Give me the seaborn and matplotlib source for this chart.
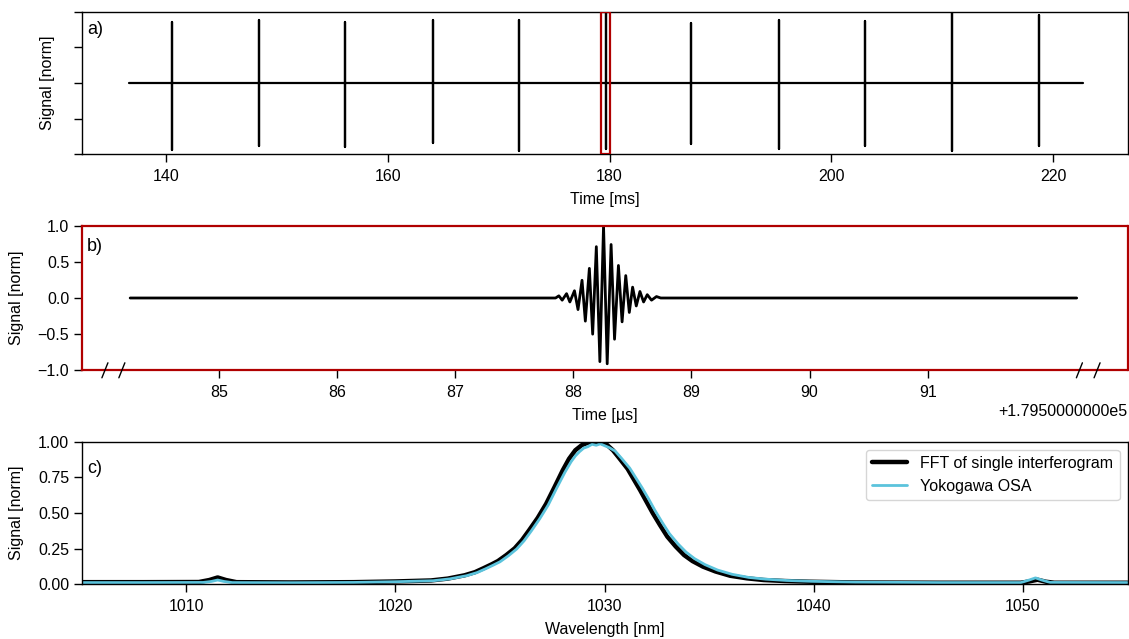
import numpy as np
import matplotlib
matplotlib.use("Agg")
import matplotlib.pyplot as plt
from matplotlib.patches import Rectangle
from matplotlib.ticker import ScalarFormatter
import seaborn as sns

# ---------------- (a) pulse train, time in ms ----------------
record_ms = [136.62, 222.68]
pulse_t_ms = [140.57, 148.37, 156.17, 164.07, 171.83, 179.66,
              187.38, 195.24, 203.00, 210.86, 218.73]
pulse_top = [0.86, 0.89, 0.85, 0.88, 0.89, 0.98, 0.84, 0.88, 0.87, 1.00, 0.95]
pulse_bottom = [-0.94, -0.885, -0.895, -0.84, -0.95, -0.93,
                -0.86, -0.92, -0.89, -0.96, -0.89]
zoom_window_ms = [179.21, 180.07]

# ---------------- (b) single interferogram, time in µs ----------------
T0_US = 179500.0
trace_us = [84.25, 92.26]
fringe_t_us = [87.850, 87.878, 87.906, 87.943, 87.971, 88.010, 88.040, 88.074,
               88.102, 88.136, 88.164, 88.195, 88.225, 88.256, 88.287, 88.320,
               88.349, 88.382, 88.413, 88.444, 88.474, 88.502, 88.533, 88.564,
               88.595, 88.626, 88.662, 88.704, 88.740]
fringe_v = [0.0, 0.03, -0.03, 0.06, -0.055, 0.10, -0.16, 0.245,
            -0.32, 0.41, -0.50, 0.71, -0.88, 1.00, -0.91, 0.74,
            -0.57, 0.45, -0.33, 0.31, -0.20, 0.15, -0.11, 0.09,
            -0.055, 0.046, -0.03, 0.02, 0.0]
b_ticks_us = [85, 86, 87, 88, 89, 90, 91]
b_xlim_us = [83.84, 92.69]

# ---------------- (c) spectra ----------------
fft_wl = [1005.0, 1008.0, 1010.6, 1011.1, 1011.5, 1011.9, 1012.4, 1015.0,
          1018.0, 1020.0, 1021.7, 1022.5, 1023.3, 1023.8, 1024.2, 1024.6,
          1024.9, 1025.3, 1025.7, 1026.05, 1026.4, 1026.8, 1027.2, 1027.6,
          1028.0, 1028.3, 1028.6, 1028.9, 1029.2, 1029.5, 1029.8, 1030.1,
          1030.4, 1030.7, 1031.1, 1031.4, 1031.7, 1032.0, 1032.3, 1032.65,
          1033.0, 1033.4, 1033.8, 1034.2, 1034.7, 1035.3, 1036.0, 1036.8,
          1037.6, 1038.6, 1039.8, 1042.0, 1046.0, 1049.9, 1050.3, 1050.7,
          1051.1, 1051.5, 1055.0]
fft_val = [0.015, 0.015, 0.016, 0.030, 0.048, 0.030, 0.015, 0.013,
           0.015, 0.020, 0.027, 0.040, 0.063, 0.085, 0.112, 0.140,
           0.163, 0.205, 0.252, 0.310, 0.381, 0.465, 0.563, 0.680,
           0.800, 0.880, 0.940, 0.975, 0.993, 1.000, 0.995, 0.980,
           0.940, 0.885, 0.810, 0.735, 0.660, 0.580, 0.500, 0.415,
           0.334, 0.265, 0.205, 0.163, 0.124, 0.090, 0.060, 0.042,
           0.030, 0.023, 0.018, 0.013, 0.011, 0.011, 0.020, 0.032,
           0.018, 0.011, 0.011]
osa_wl = [1005.0, 1008.0, 1010.8, 1011.2, 1011.5, 1011.8, 1012.2, 1015.0,
          1018.0, 1020.0, 1021.8, 1022.6, 1023.4, 1023.9, 1024.3, 1024.7,
          1025.0, 1025.4, 1025.8, 1026.15, 1026.5, 1026.9, 1027.3, 1027.7,
          1028.1, 1028.4, 1028.6, 1028.8, 1029.0, 1029.2, 1029.4, 1029.6,
          1029.8, 1030.0, 1030.2, 1030.5, 1030.8, 1031.2, 1031.5, 1031.8,
          1032.1, 1032.4, 1032.75, 1033.1, 1033.5, 1033.9, 1034.3, 1034.8,
          1035.4, 1036.1, 1036.9, 1037.7, 1038.7, 1039.9, 1042.0, 1046.0,
          1049.9, 1050.3, 1050.6, 1050.9, 1051.3, 1055.0]
osa_val = [0.012, 0.012, 0.013, 0.020, 0.030, 0.020, 0.012, 0.011,
           0.013, 0.018, 0.025, 0.038, 0.060, 0.082, 0.108, 0.136,
           0.158, 0.200, 0.248, 0.305, 0.375, 0.460, 0.555, 0.672,
           0.785, 0.860, 0.900, 0.930, 0.955, 0.965, 0.982, 0.975,
           0.985, 0.972, 0.960, 0.935, 0.885, 0.815, 0.745, 0.675,
           0.600, 0.520, 0.435, 0.355, 0.285, 0.225, 0.180, 0.138,
           0.100, 0.070, 0.048, 0.036, 0.027, 0.021, 0.015, 0.012,
           0.012, 0.030, 0.045, 0.030, 0.013, 0.012]

RED = "#b00000"
CYAN = "#5bc3dc"

sns.set_theme(style="ticks")
plt.rcParams["font.family"] = ["Liberation Sans", "DejaVu Sans"]
plt.rcParams.update({
    "font.size": 11.5,
    "axes.labelsize": 11.5,
    "xtick.labelsize": 11.5,
    "ytick.labelsize": 11.5,
    "legend.fontsize": 11.5,
    "axes.linewidth": 1.0,
    "axes.edgecolor": "black",
    "axes.labelpad": 6.0,
    "xtick.color": "black",
    "ytick.color": "black",
    "xtick.major.size": 5.5,
    "ytick.major.size": 5.5,
    "xtick.major.pad": 5.0,
    "ytick.major.pad": 3.5,
    "xtick.major.width": 1.0,
    "ytick.major.width": 1.0,
    "axes.labelcolor": "black",
    "text.color": "black",
})


class SciOffsetFormatter(ScalarFormatter):
    """Offset written with a ten-digit mantissa, e.g. +1.7950000000e5."""

    def get_offset(self):
        if not self.offset:
            return super().get_offset()
        mant, exp = ("%1.10e" % self.offset).split("e")
        return "+" + mant + "e" + str(int(exp))


W, H = 1129, 639
fig = plt.figure(figsize=(W / 100, H / 100), dpi=100)
ax_a = fig.add_axes([81.7 / W, 1 - 154.3 / H, 1045.8 / W, 142.6 / H])
ax_b = fig.add_axes([81.7 / W, 1 - 370.3 / H, 1045.8 / W, 144.6 / H])
ax_c = fig.add_axes([81.7 / W, 1 - 584.3 / H, 1045.8 / W, 142.6 / H])

# ---- (a) ----
ta, ya = [record_ms[0]], [0.0]
for t, hi, lo in zip(pulse_t_ms, pulse_top, pulse_bottom):
    ta += [t, t, t, t]
    ya += [0.0, hi, lo, 0.0]
ta.append(record_ms[1])
ya.append(0.0)
sns.lineplot(x=ta, y=ya, ax=ax_a, color="black", lw=1.6,
             estimator=None, sort=False)
ax_a.add_patch(Rectangle((zoom_window_ms[0], -1.0),
                         zoom_window_ms[1] - zoom_window_ms[0], 2.0,
                         fill=False, edgecolor=RED, lw=1.6, zorder=4))
ax_a.set_xlim(132.4, 226.7)
ax_a.set_ylim(-1.0, 1.0)
ax_a.set_yticks([-1.0, -0.5, 0.0, 0.5, 1.0])
ax_a.set_yticklabels([])
ax_a.set_xlabel("Time [ms]")
ax_a.set_ylabel("Signal [norm]")
ax_a.yaxis.set_label_coords(-0.0255, 0.5)
ax_a.text(0.005, 0.935, "a)", transform=ax_a.transAxes, ha="left", va="top",
          fontsize=13)

# ---- (b) ----
tb = [trace_us[0]] + fringe_t_us + [trace_us[1]]
vb = [0.0] + fringe_v + [0.0]
sns.lineplot(x=T0_US + np.array(tb), y=vb, ax=ax_b, color="black", lw=2.0,
             estimator=None, sort=False)
ax_b.set_xlim(T0_US + b_xlim_us[0], T0_US + b_xlim_us[1])
ax_b.set_ylim(-1.0, 1.0)
ax_b.set_xticks(T0_US + np.array(b_ticks_us, dtype=float))
ax_b.set_yticks([-1.0, -0.5, 0.0, 0.5, 1.0])
ax_b.xaxis.set_major_formatter(SciOffsetFormatter(useOffset=True))
for sp in ax_b.spines.values():
    sp.set_edgecolor(RED)
    sp.set_linewidth(1.6)
ax_b.set_xlabel("Time [µs]")
ax_b.set_ylabel("Signal [norm]")
ax_b.yaxis.set_label_coords(-0.0552, 0.5)
ax_b.text(0.005, 0.915, "b)", transform=ax_b.transAxes, ha="left", va="top",
          fontsize=13)

# broken-axis marks on the bottom spine
dx, dy = 3.0 / 1045.8, 7.5 / 144.6
for xf in (0.0222, 0.0384, 0.9540, 0.9709):
    ax_b.plot([xf - dx, xf + dx], [-dy, dy], transform=ax_b.transAxes,
              color="black", lw=1.0, clip_on=False, zorder=6)

# ---- (c) ----
sns.lineplot(x=fft_wl, y=fft_val, ax=ax_c, color="black", lw=3.2,
             estimator=None, sort=False, label="FFT of single interferogram")
sns.lineplot(x=osa_wl, y=osa_val, ax=ax_c, color=CYAN, lw=2.0,
             estimator=None, sort=False, label="Yokogawa OSA")
ax_c.set_xlim(1005, 1055)
ax_c.set_ylim(0.0, 1.0)
ax_c.set_yticks([0.0, 0.25, 0.5, 0.75, 1.0])
ax_c.set_xlabel("Wavelength [nm]")
ax_c.set_ylabel("Signal [norm]")
ax_c.yaxis.set_label_coords(-0.0552, 0.5)
ax_c.text(0.005, 0.875, "c)", transform=ax_c.transAxes, ha="left", va="top",
          fontsize=13)
ax_c.legend(loc="upper right", frameon=True, fancybox=True, framealpha=0.8,
            edgecolor="0.8", handlelength=2.2)

fig.savefig("out.png", dpi=100)
